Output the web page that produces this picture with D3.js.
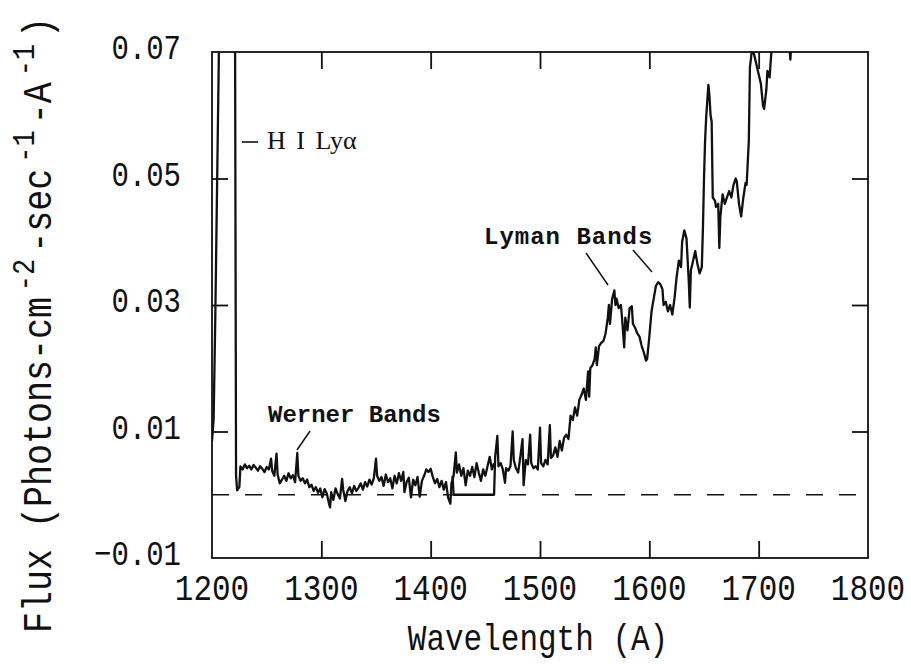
<!DOCTYPE html>
<html><head><meta charset="utf-8">
<script src="https://cdn.jsdelivr.net/npm/d3@7/dist/d3.min.js"></script>
<style>body{margin:0;background:#fff} svg{display:block}</style>
</head><body>
<svg id="c" width="911" height="664"></svg>
<script>
// Short-wavelength segment (incl. H I Lyman-alpha)
const wavelengthA = [1200,1201.5,1203,1204.5,1206,1207,1214,1220,1221,1222,1223,1225,1226,1228,1230,1232,1234,1236,1238,1240,1242,1244,1246,1248,1250,1252,1254,1255,1257,1259,1260,1262,1264,1266,1268,1270,1272,1274,1276,1278,1279,1281,1283,1285,1287,1289,1291,1293,1295,1297,1299,1301,1303,1305,1307,1308,1309,1311,1313,1315,1317,1319,1320,1322,1324,1326,1328,1330,1332,1334,1336,1338,1340,1342,1344,1346,1348,1350,1351,1353,1355,1357,1359,1361,1363,1365,1367,1369,1371,1373,1375,1376,1378,1380,1382,1384,1386,1388,1390,1392,1394,1396,1398,1400,1402,1404,1406,1408,1410,1412,1414,1416,1418,1419,1421,1423,1424,1426,1428,1430,1432,1434,1436,1438,1440,1442,1444,1446,1448,1450,1452,1454,1456,1458];
const fluxA = [0.0085,0.012,0.028,0.047,0.066,0.080,0.090,0.090,0.080,0.0030,0.0007,0.0012,0.0045,0.0040,0.0048,0.0042,0.0046,0.0040,0.0047,0.0043,0.0038,0.0045,0.0041,0.0036,0.0044,0.0040,0.0057,0.0038,0.0030,0.0065,0.0032,0.0018,0.0024,0.0030,0.0022,0.0034,0.0026,0.0031,0.0020,0.0066,0.0030,0.0022,0.0026,0.0018,0.0024,0.0012,0.0016,0.0006,0.0012,0.0003,0.0010,-0.0004,0.0009,0.0002,-0.0014,-0.0020,0.0004,-0.0008,0.0010,0.0001,-0.0006,0.0025,0.0008,-0.0010,0.0006,0.0012,0.0002,0.0014,0.0006,0.0011,0.0018,0.0008,0.0020,0.0013,0.0024,0.0016,0.0026,0.0057,0.0030,0.0022,0.0028,0.0014,0.0032,0.0020,0.0026,0.0010,0.0030,0.0018,0.0034,0.0022,0.0036,0.0004,0.0020,0.0027,-0.0004,0.0024,0.0015,0.0028,-0.0003,0.0022,0.0030,0.0040,0.0036,0.0041,0.0028,0.0018,0.0025,0.0012,0.0022,0.0008,0.0020,-0.0005,-0.0014,0.0018,0.0030,0.0067,0.0035,0.0048,0.0030,0.0042,0.0015,0.0038,0.0030,0.0044,0.0028,0.0050,0.0035,0.0022,0.0040,0.0030,0.0045,0.0060,0.0040,0.0050];
// Long-wavelength segment
const wavelengthB = [1420,1421,1458,1459,1461,1462,1464,1466,1468,1469,1471,1473,1475,1476,1478,1480,1482,1484,1485,1487,1489,1491,1492,1494,1496,1498,1500,1501,1503,1505,1507,1509,1510,1512,1514,1516,1518,1520,1522,1524,1526,1528,1530,1532,1534,1536,1538,1540,1542,1544,1545,1546,1548,1550,1551,1552,1554,1556,1558,1560,1562,1563,1564,1566,1568,1569,1570,1572,1574,1575,1577,1578,1580,1582,1584,1585,1587,1589,1591,1593,1595,1597,1598,1600,1602,1604,1606,1608,1610,1612,1613,1615,1617,1619,1621,1623,1625,1627,1629,1630,1632,1634,1636,1637,1638,1640,1642,1644,1646,1648,1649,1650,1651,1652,1654,1655,1656,1657,1658,1660,1661,1663,1664,1665,1667,1669,1671,1673,1675,1677,1679,1680,1682,1684,1686,1688,1689,1691,1692,1694,1696,1698,1700,1702,1704,1705,1707,1708,1710,1712,1714,1720,1728,1729,1730,1734,1740];
const fluxB = [0.0030,0,0,0.0060,0.0093,0.0045,0.0050,0.0040,0.0019,0.0042,0.0038,0.0045,0.0100,0.0055,0.0042,0.0035,0.0060,0.0088,0.0015,0.0055,0.0048,0.0095,0.0050,0.0042,0.0045,0.0040,0.0106,0.0050,0.0045,0.0055,0.0048,0.0110,0.0058,0.0062,0.0075,0.0060,0.0085,0.0070,0.0090,0.0095,0.0088,0.0125,0.0118,0.0138,0.0125,0.0150,0.0158,0.0168,0.0150,0.0195,0.0155,0.0200,0.0205,0.0215,0.0233,0.0205,0.0235,0.0240,0.0243,0.0255,0.0280,0.0300,0.0270,0.0310,0.0323,0.0300,0.0310,0.0295,0.0300,0.0280,0.0233,0.0280,0.0260,0.0295,0.0298,0.0270,0.0264,0.0255,0.0250,0.0235,0.0225,0.0212,0.0215,0.0250,0.0290,0.0310,0.0330,0.0336,0.0333,0.0325,0.0300,0.0305,0.0290,0.0300,0.0285,0.0310,0.0345,0.0370,0.0360,0.0400,0.0418,0.0405,0.0340,0.0296,0.0355,0.0370,0.0385,0.0365,0.0350,0.0360,0.0420,0.0500,0.0560,0.0597,0.0648,0.0630,0.0600,0.0590,0.0470,0.0465,0.0455,0.0460,0.0390,0.0440,0.0475,0.0460,0.0470,0.0480,0.0470,0.0490,0.0500,0.0495,0.0460,0.0440,0.0470,0.0493,0.0490,0.0560,0.0676,0.0705,0.0695,0.0680,0.0665,0.0650,0.0615,0.0610,0.0640,0.0670,0.0660,0.0710,0.0760,0.0780,0.0710,0.0688,0.0720,0.0780,0.0800];

const xTicks = [1200,1300,1400,1500,1600,1700,1800];
const xTickLabels = ["1200","1300","1400","1500","1600","1700","1800"];
const yTicks = [-0.01,0.01,0.03,0.05,0.07];
const yTickLabels = ["\u22120.01","0.01","0.03","0.05","0.07"];
const xLabel = "Wavelength (A)";

const svg = d3.select("#c");
const m = {left:212, right:868, top:52, bottom:558};
const x = d3.scaleLinear().domain([1200,1800]).range([m.left,m.right]);
const y = d3.scaleLinear().domain([-0.01,0.07]).range([m.bottom,m.top]);
const ink = "#111";
const mono = "'Liberation Mono', monospace";

svg.append("defs").append("clipPath").attr("id","clip")
  .append("rect").attr("x",m.left).attr("y",m.top).attr("width",m.right-m.left).attr("height",m.bottom-m.top);

// zero dashed line
svg.append("line").attr("x1",x(1200)).attr("x2",x(1800)).attr("y1",y(0)).attr("y2",y(0))
  .attr("stroke",ink).attr("stroke-width",1.6).attr("stroke-dasharray","17,16");

// spectrum
const line = d3.line().x(d=>x(d[0])).y(d=>y(d[1]));
const g = svg.append("g").attr("clip-path","url(#clip)");
[[wavelengthA,fluxA],[wavelengthB,fluxB]].forEach(([w,f])=>{
  g.append("path").datum(w.map((v,i)=>[v,f[i]])).attr("d",line)
   .attr("fill","none").attr("stroke",ink).attr("stroke-width",2.3).attr("stroke-linejoin","round");
});

// frame
svg.append("rect").attr("x",m.left).attr("y",m.top).attr("width",m.right-m.left).attr("height",m.bottom-m.top)
  .attr("fill","none").attr("stroke",ink).attr("stroke-width",1.8);

// ticks with d3 axes (inward)
const inner = xTicks.slice(1,-1);
const axOpts = a => a.tickSizeOuter(0).tickFormat("");
svg.append("g").attr("transform",`translate(0,${m.bottom})`).call(axOpts(d3.axisBottom(x).tickValues(inner).tickSizeInner(-17)));
svg.append("g").attr("transform",`translate(0,${m.top})`).call(axOpts(d3.axisTop(x).tickValues(inner).tickSizeInner(-17)));
const yInner = yTicks.filter(v=>v>-0.01 && v<0.07);
svg.append("g").attr("transform",`translate(${m.left},0)`).call(axOpts(d3.axisLeft(y).tickValues(yInner).tickSizeInner(-16)));
svg.append("g").attr("transform",`translate(${m.right},0)`).call(axOpts(d3.axisRight(y).tickValues(yInner).tickSizeInner(-16)));
svg.selectAll(".domain").remove();
svg.selectAll(".tick line").attr("stroke",ink).attr("stroke-width",1.8);

// tick labels
xTicks.forEach((t,i)=>{
  svg.append("text").attr("transform",`translate(${x(t)},${600}) scale(1,1.2)`)
    .attr("text-anchor","middle").attr("font-family",mono).attr("font-size",31).attr("fill",ink)
    .text(xTickLabels[i]);
});
yTicks.forEach((t,i)=>{
  svg.append("text").attr("transform",`translate(181,${y(t)+7}) scale(1,1.2)`)
    .attr("text-anchor","end").attr("font-family",mono).attr("font-size",29).attr("fill",ink)
    .text(yTickLabels[i]);
});

// axis titles
svg.append("text").attr("transform",`translate(538,650) scale(1,1.2)`)
  .attr("text-anchor","middle").attr("font-family",mono).attr("font-size",31).attr("fill",ink)
  .text(xLabel);
const yl = svg.append("text").attr("transform",`translate(51,325) rotate(-90) scale(1,1.15)`)
  .attr("text-anchor","middle").attr("font-family",mono).attr("font-size",35).attr("fill",ink);
yl.append("tspan").text("Flux (Photons-cm");
yl.append("tspan").attr("dy",-15).attr("dx",6).attr("font-size",27).text("-2");
yl.append("tspan").attr("dy",15).attr("dx",6).text("-sec");
yl.append("tspan").attr("dy",-15).attr("dx",6).attr("font-size",27).text("-1");
yl.append("tspan").attr("dy",15).attr("dx",6).text("-A");
yl.append("tspan").attr("dy",-15).attr("dx",6).attr("font-size",27).text("-1");
yl.append("tspan").attr("dy",15).attr("dx",6).text(")");

// annotations
svg.append("line").attr("x1",242).attr("x2",258).attr("y1",142).attr("y2",142).attr("stroke",ink).attr("stroke-width",1.6);
svg.append("text").attr("x",267).attr("y",149).attr("font-family","'Liberation Serif', serif").attr("font-size",26)
  .attr("word-spacing",4).attr("fill",ink).text("H I Ly\u03B1");
svg.append("text").attr("x",268).attr("y",422).attr("font-family",mono).attr("font-weight","bold").attr("font-size",24)
  .attr("fill",ink).text("Werner Bands");
svg.append("line").attr("x1",310).attr("y1",431).attr("x2",297).attr("y2",450).attr("stroke",ink).attr("stroke-width",1.5);
svg.append("text").attr("x",484).attr("y",244).attr("font-family",mono).attr("font-weight","bold").attr("font-size",24)
  .attr("letter-spacing",1).attr("fill",ink).text("Lyman Bands");
svg.append("line").attr("x1",586).attr("y1",253).attr("x2",608).attr("y2",285).attr("stroke",ink).attr("stroke-width",1.5);
svg.append("line").attr("x1",633).attr("y1",250).attr("x2",652).attr("y2",272).attr("stroke",ink).attr("stroke-width",1.5);
</script>
</body></html>
